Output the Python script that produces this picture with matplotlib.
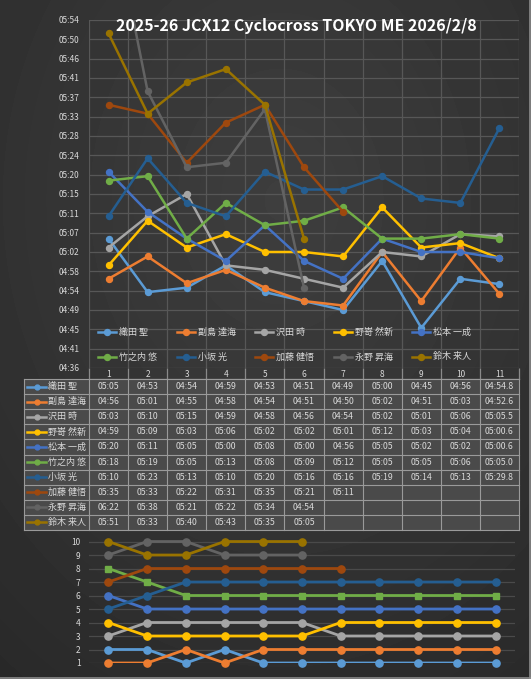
import numpy as np
import matplotlib.pyplot as plt
from matplotlib.patches import Rectangle

plt.rcParams['font.family'] = ['Noto Sans CJK JP', 'DejaVu Sans']

title = '2025-26 JCX12 Cyclocross TOKYO ME 2026/2/8'
laps = list(range(1, 12))
riders = ['織田 聖', '副島 達海', '沢田 時', '野嵜 然新', '松本 一成',
          '竹之内 悠', '小坂 光', '加藤 健悟', '永野 昇海', '鈴木 来人']
colors = ['#5B9BD5', '#ED7D31', '#A5A5A5', '#FFC000', '#4472C4',
          '#70AD47', '#255E91', '#9E480E', '#636363', '#997300']

# lap times (as shown in the table)
oda = ['05:05', '04:53', '04:54', '04:59', '04:53', '04:51', '04:49', '05:00', '04:45', '04:56', '04:54.8']
soejima = ['04:56', '05:01', '04:55', '04:58', '04:54', '04:51', '04:50', '05:02', '04:51', '05:03', '04:52.6']
sawada = ['05:03', '05:10', '05:15', '04:59', '04:58', '04:56', '04:54', '05:02', '05:01', '05:06', '05:05.5']
nozaki = ['04:59', '05:09', '05:03', '05:06', '05:02', '05:02', '05:01', '05:12', '05:03', '05:04', '05:00.6']
matsumoto = ['05:20', '05:11', '05:05', '05:00', '05:08', '05:00', '04:56', '05:05', '05:02', '05:02', '05:00.6']
takenouchi = ['05:18', '05:19', '05:05', '05:13', '05:08', '05:09', '05:12', '05:05', '05:05', '05:06', '05:05.0']
kosaka = ['05:10', '05:23', '05:13', '05:10', '05:20', '05:16', '05:16', '05:19', '05:14', '05:13', '05:29.8']
kato = ['05:35', '05:33', '05:22', '05:31', '05:35', '05:21', '05:11']
nagano = ['06:22', '05:38', '05:21', '05:22', '05:34', '04:54']
suzuki = ['05:51', '05:33', '05:40', '05:43', '05:35', '05:05']
times = [oda, soejima, sawada, nozaki, matsumoto, takenouchi, kosaka, kato, nagano, suzuki]

# positions after each lap
oda_rank = [2, 2, 1, 2, 1, 1, 1, 1, 1, 1, 1]
soejima_rank = [1, 1, 2, 1, 2, 2, 2, 2, 2, 2, 2]
sawada_rank = [3, 4, 4, 4, 4, 4, 3, 3, 3, 3, 3]
nozaki_rank = [4, 3, 3, 3, 3, 3, 4, 4, 4, 4, 4]
matsumoto_rank = [6, 5, 5, 5, 5, 5, 5, 5, 5, 5, 5]
takenouchi_rank = [8, 7, 6, 6, 6, 6, 6, 6, 6, 6, 6]
kosaka_rank = [5, 6, 7, 7, 7, 7, 7, 7, 7, 7, 7]
kato_rank = [7, 8, 8, 8, 8, 8, 8]
nagano_rank = [9, 10, 10, 9, 9, 9]
suzuki_rank = [10, 9, 9, 10, 10, 10]
ranks = [oda_rank, soejima_rank, sawada_rank, nozaki_rank, matsumoto_rank,
         takenouchi_rank, kosaka_rank, kato_rank, nagano_rank, suzuki_rank]

ytick_labels = ['04:36', '04:41', '04:45', '04:49', '04:54', '04:58', '05:02', '05:07', '05:11', '05:15',
                '05:20', '05:24', '05:28', '05:33', '05:37', '05:41', '05:46', '05:50', '05:54']
rank_ticks = list(range(1, 11))


def to_sec(t):
    m, s = t.split(':')
    return int(m) * 60 + float(s)


W, H = 531, 679
fig = plt.figure(figsize=(W / 100, H / 100), dpi=100)
fig.patch.set_facecolor('#2e2e2e')


def box(l, t, r, b):
    return [l / W, 1 - b / H, (r - l) / W, (b - t) / H]


txt_c = '#d9d9d9'
grid_c = '#575757'

# background
bg = fig.add_axes([0, 0, 1, 1], zorder=-5)
yy, xx = np.mgrid[0:H, 0:W]
d = np.hypot((xx - 280) / W, (yy - 200) / H)
bg.imshow(0.245 - 0.095 * d, cmap='gray', vmin=0, vmax=1, aspect='auto')
bg.axis('off')

# lap time chart
ax = fig.add_axes(box(89, 20, 519, 368))
ax.set_facecolor('none')
for name, t, c in zip(riders, times, colors):
    secs = [to_sec(v) for v in t]
    ax.plot(laps[:len(secs)], secs, color=c, lw=1.8, marker='o', ms=4.3, label=name)
ax.set_xlim(0.5, 11.5)
ax.set_ylim(276, 354)
ax.set_yticks(np.linspace(276, 354, len(ytick_labels)))
ax.set_yticklabels(ytick_labels)
ax.set_xticks(laps)
ax.set_xticklabels([str(l) for l in laps])
ax.set_xticks(np.arange(0.5, 12), minor=True)
ax.grid(which='minor', axis='x', color=grid_c, lw=0.9)
ax.grid(which='major', axis='y', color=grid_c, lw=0.9)
ax.grid(which='major', axis='x', visible=False)
ax.set_axisbelow(True)
ax.tick_params(axis='both', which='both', length=0, colors=txt_c, labelsize=6)
ax.tick_params(axis='x', pad=1.5)
ax.tick_params(axis='y', pad=7)
for s in ax.spines.values():
    s.set_visible(False)
# header row boxes under the chart
xt = ax.get_xaxis_transform()
ax.vlines(np.arange(0.5, 12), -11 / 348, 0, transform=xt, color='#8a8a8a', lw=0.9, clip_on=False)
ax.plot([0.5, 11.5], [-11 / 348] * 2, transform=xt, color='#8a8a8a', lw=0.9, clip_on=False)

# bottom position chart
ax2 = fig.add_axes(box(89, 531, 515, 663))
ax2.set_facecolor('none')
for t_rank, c, name in zip(ranks, colors, riders):
    mk = 's' if name == '竹之内 悠' else 'o'
    ms = 4.5 if mk == 's' else 5.2
    x = laps[:len(t_rank)]
    ax2.plot(x, t_rank, color=c, lw=2, clip_on=True)
    ax2.plot(x, t_rank, ls='none', marker=mk, ms=ms, color=c, clip_on=False)
ax2.set_xlim(0.5, 11.5)
ax2.set_ylim(1, 10.78)
ax2.set_yticks(rank_ticks)
ax2.set_xticks([])
ax2.grid(axis='y', color='#4a4a4a', lw=0.9)
ax2.set_axisbelow(True)
ax2.tick_params(axis='y', length=0, colors=txt_c, labelsize=6, pad=6)
for s in ax2.spines.values():
    s.set_visible(False)

# overlay in pixel coordinates: title, legend, table
ov = fig.add_axes([0, 0, 1, 1], zorder=5)
ov.set_xlim(0, W)
ov.set_ylim(H, 0)
ov.axis('off')

ov.text(296, 26, title, ha='center', va='center', fontsize=11.5, fontweight='bold', color='white')

# legend
for i, (name, c) in enumerate(zip(riders, colors)):
    x0 = 98 + (i % 5) * 78.6
    y0 = 332 + (i // 5) * 25
    ov.plot([x0, x0 + 18], [y0, y0], color=c, lw=1.8)
    ov.plot([x0 + 9], [y0], marker='o', ms=4.3, color=c)
    ov.text(x0 + 21, y0, name, ha='left', va='center', fontsize=6.5, color=txt_c)

# data table
tab_l, tab_r, tab_t = 24, 519, 379
col0 = 89
row_h = 15.1
col_w = (tab_r - col0) / 11
n = len(riders)
line_c = '#9a9a9a'
ov.add_patch(Rectangle((tab_l, tab_t), tab_r - tab_l, n * row_h, fc='#4a4a4a', ec='none'))
for k in range(n + 1):
    ov.plot([tab_l, tab_r], [tab_t + k * row_h] * 2, color=line_c, lw=0.8)
for xv in [tab_l] + [col0 + j * col_w for j in range(12)]:
    ov.plot([xv, xv], [tab_t, tab_t + n * row_h], color=line_c, lw=0.8)
for i, (name, t, c) in enumerate(zip(riders, times, colors)):
    yc = tab_t + (i + 0.5) * row_h
    ov.plot([27, 46], [yc, yc], color=c, lw=1.8)
    ov.plot([36.5], [yc], marker='o', ms=3.5, color=c)
    ov.text(48, yc, name, ha='left', va='center', fontsize=6.5, color=txt_c)
    for j, v in enumerate(t):
        ov.text(col0 + (j + 0.5) * col_w, yc, v, ha='center', va='center', fontsize=6.3, color=txt_c)

# outer frame edges
ov.plot([529.5, 529.5], [0, H], color='#8c8c8c', lw=1.2)
ov.plot([0, W], [677.8, 677.8], color='#8c8c8c', lw=1.2)

fig.savefig('out.png', dpi=100, facecolor=fig.get_facecolor())
